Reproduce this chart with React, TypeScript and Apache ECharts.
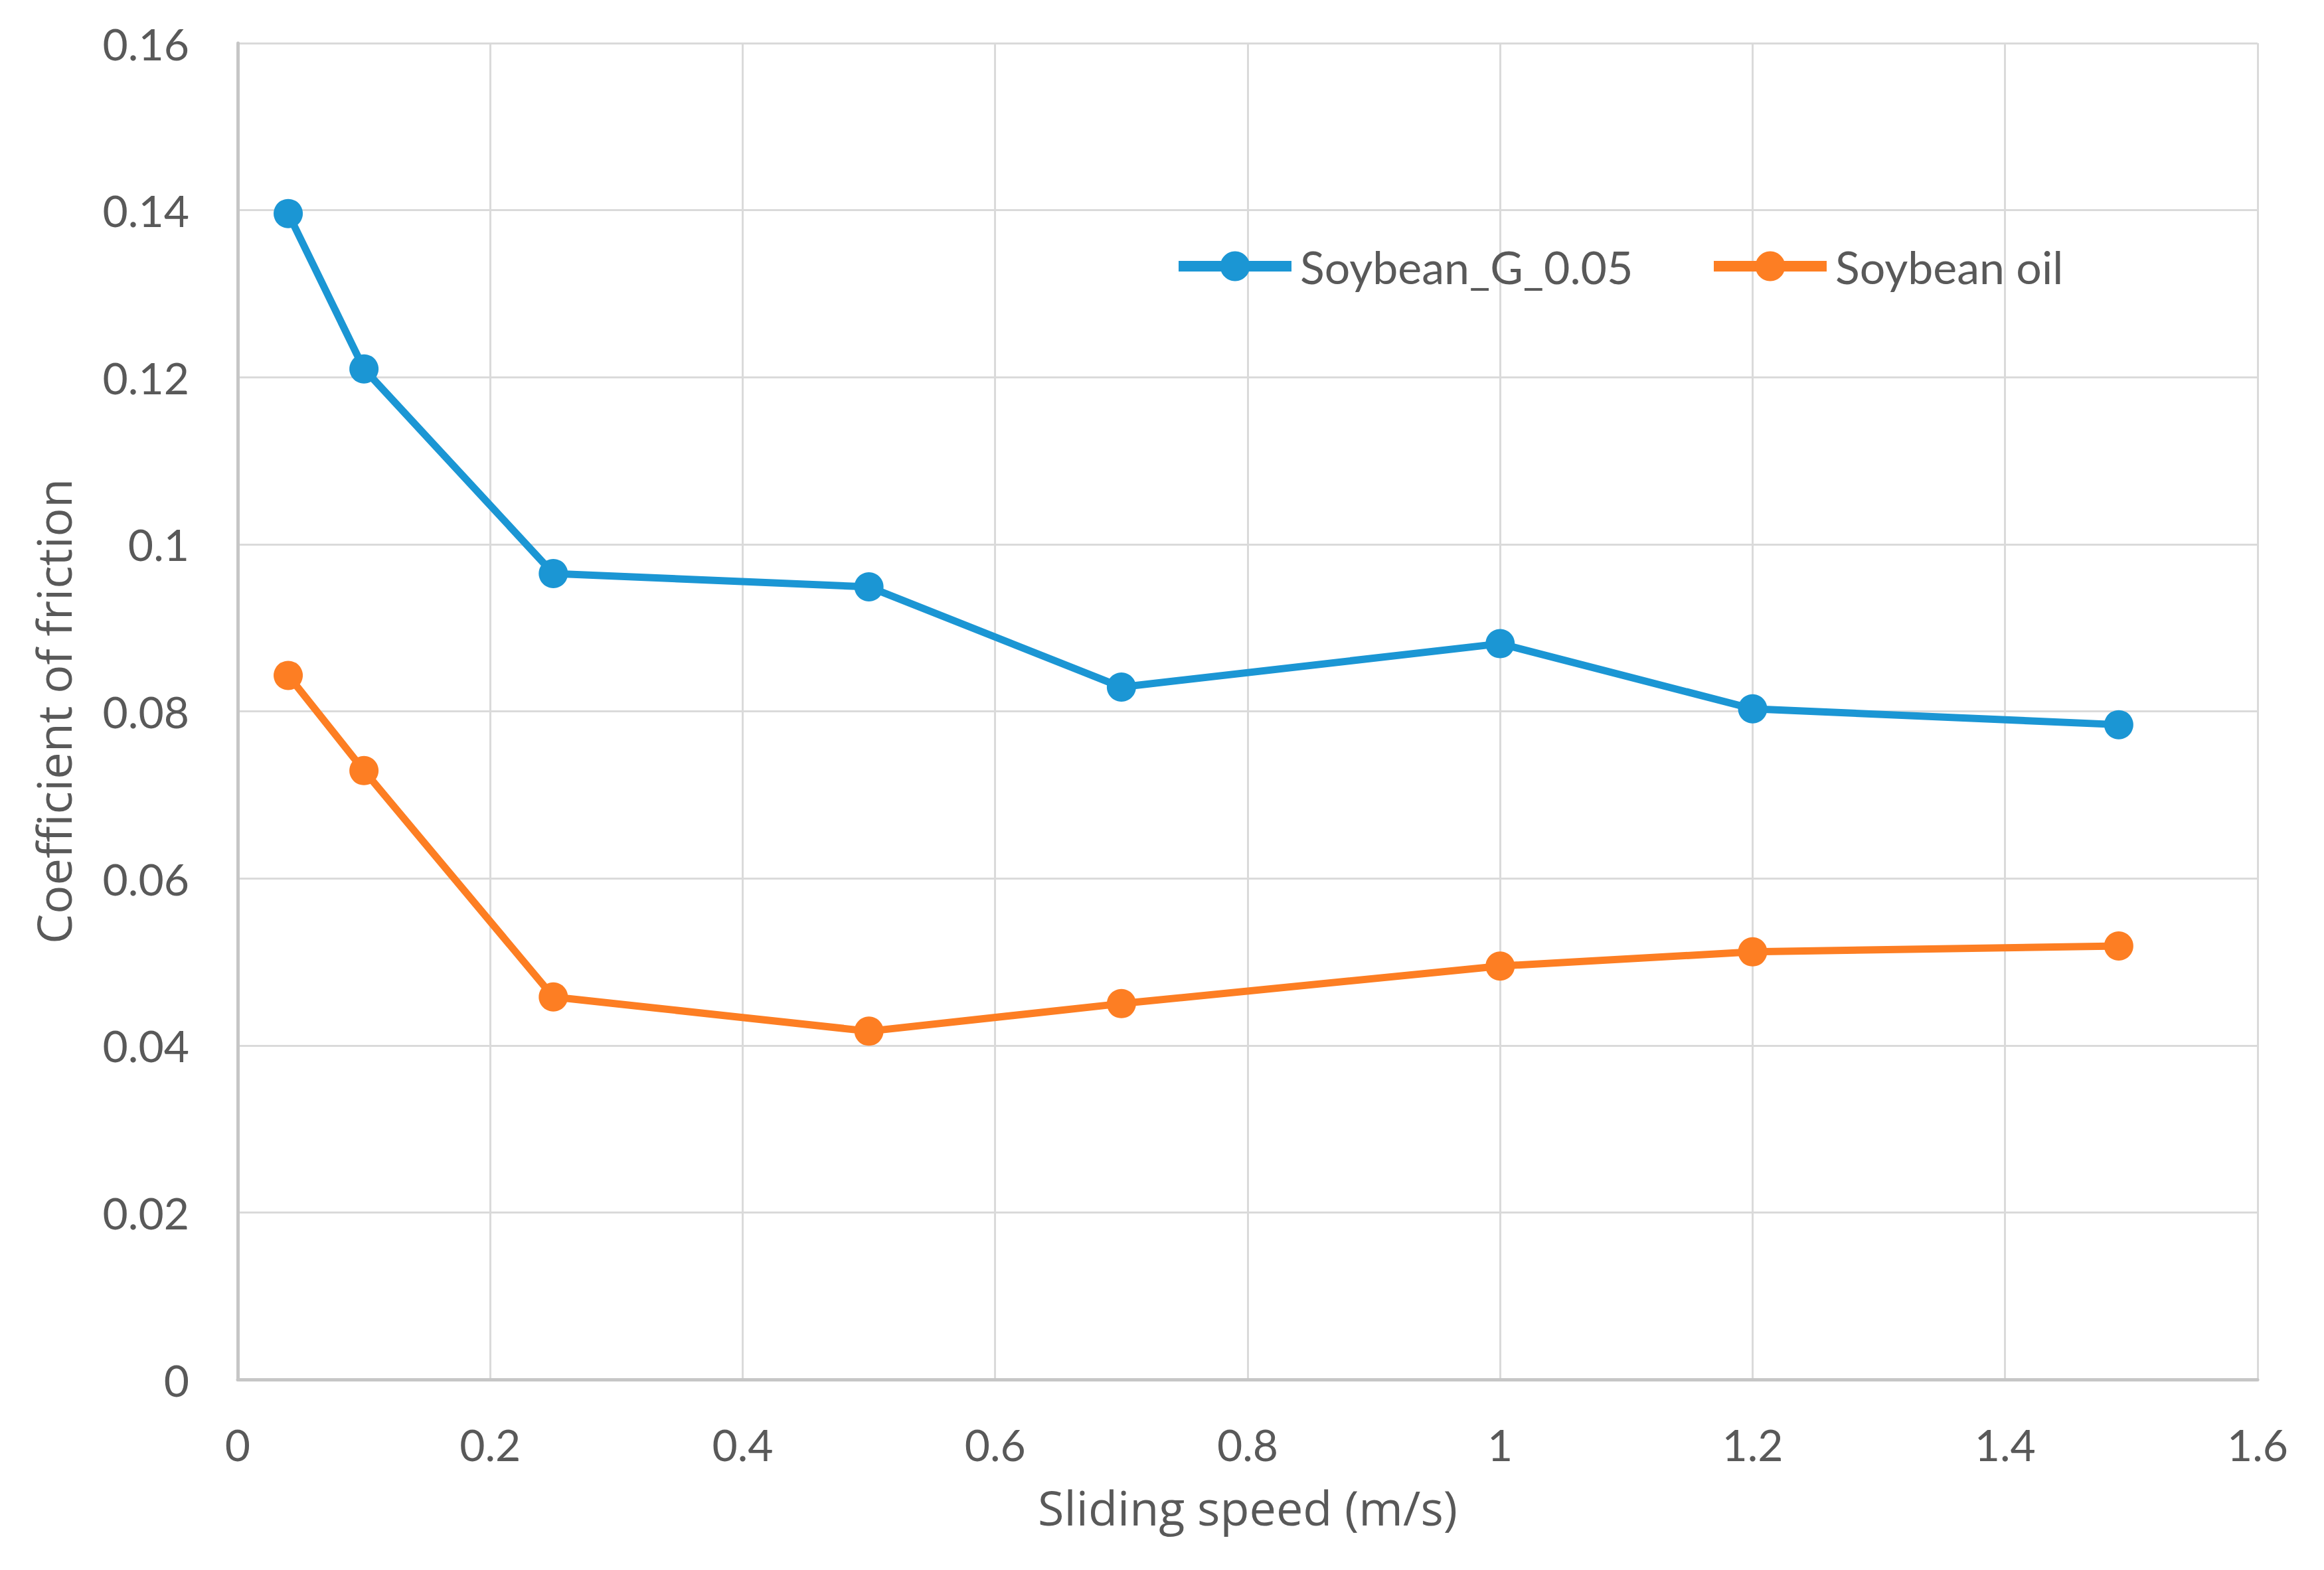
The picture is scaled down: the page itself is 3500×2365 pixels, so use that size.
import React, { useEffect, useRef } from "react";
import * as echarts from "echarts";

const speeds = [0.04, 0.1, 0.25, 0.5, 0.7, 1.0, 1.2, 1.49];
const soybeanG005 = [0.1396, 0.121, 0.0965, 0.0949, 0.0829, 0.0881, 0.0803, 0.0784];
const soybeanOil = [0.0843, 0.0729, 0.0458, 0.0417, 0.045, 0.0495, 0.0512, 0.0519];
const seriesNames = ["Soybean_G_0.05", "Soybean oil"];
const seriesColors = ["#1b96d4", "#fd7e23"];

const textColor = "#595959";
const tickFont = "Lato";
const titleFont = "'Open Sans'";

export default function App() {
  const ref = useRef<HTMLDivElement>(null);

  useEffect(() => {
    document.body.style.margin = "0";
    if (!ref.current) return;
    const chart = echarts.init(ref.current, undefined, { renderer: "svg" });
    const mk = (name: string, ys: number[], color: string) => ({
      name,
      type: "line",
      data: speeds.map((x, i) => [x, ys[i]]),
      symbol: "circle",
      symbolSize: 44,
      showSymbol: true,
      lineStyle: { color, width: 11 },
      itemStyle: { color },
      z: 5,
    });
    const legendBase = {
      top: 362,
      itemWidth: 170,
      itemHeight: 56,
      lineStyle: { width: 16 },
      textStyle: { fontFamily: tickFont, fontSize: 68, color: textColor, padding: [0, 0, 0, 8] },
    };
    chart.setOption({
      animation: false,
      backgroundColor: "#ffffff",
      grid: { left: 358, right: 100, top: 65, bottom: 287 },
      legend: [
        { ...legendBase, data: [seriesNames[0]], left: 1762 },
        { ...legendBase, data: [seriesNames[1]], left: 2568 },
      ],
      xAxis: {
        type: "value",
        min: 0,
        max: 1.6,
        interval: 0.2,
        name: "Sliding speed (m/s)",
        nameLocation: "middle",
        nameGap: 156,
        nameTextStyle: { fontFamily: titleFont, fontSize: 72, color: textColor },
        axisLine: { show: true, lineStyle: { color: "#c6c6c6", width: 5 } },
        axisTick: { show: false },
        axisLabel: {
          fontFamily: tickFont,
          fontSize: 66,
          color: textColor,
          margin: 64,
          formatter: (v: number) => String(parseFloat(v.toFixed(2))),
        },
        splitLine: { show: true, lineStyle: { color: "#dadada", width: 3 } },
      },
      yAxis: {
        type: "value",
        min: 0,
        max: 0.16,
        interval: 0.02,
        name: "Coefficient of friction",
        nameLocation: "middle",
        nameGap: 242,
        nameTextStyle: { fontFamily: titleFont, fontSize: 72, color: textColor },
        axisLine: { show: true, lineStyle: { color: "#c6c6c6", width: 5 } },
        axisTick: { show: false },
        axisLabel: {
          fontFamily: tickFont,
          fontSize: 66,
          color: textColor,
          margin: 73,
          formatter: (v: number) => String(parseFloat(v.toFixed(2))),
        },
        splitLine: { show: true, lineStyle: { color: "#dadada", width: 3 } },
      },
      series: [
        mk(seriesNames[0], soybeanG005, seriesColors[0]),
        mk(seriesNames[1], soybeanOil, seriesColors[1]),
      ],
    });
    return () => chart.dispose();
  }, []);

  return <div ref={ref} style={{ width: 3500, height: 2365 }} />;
}
